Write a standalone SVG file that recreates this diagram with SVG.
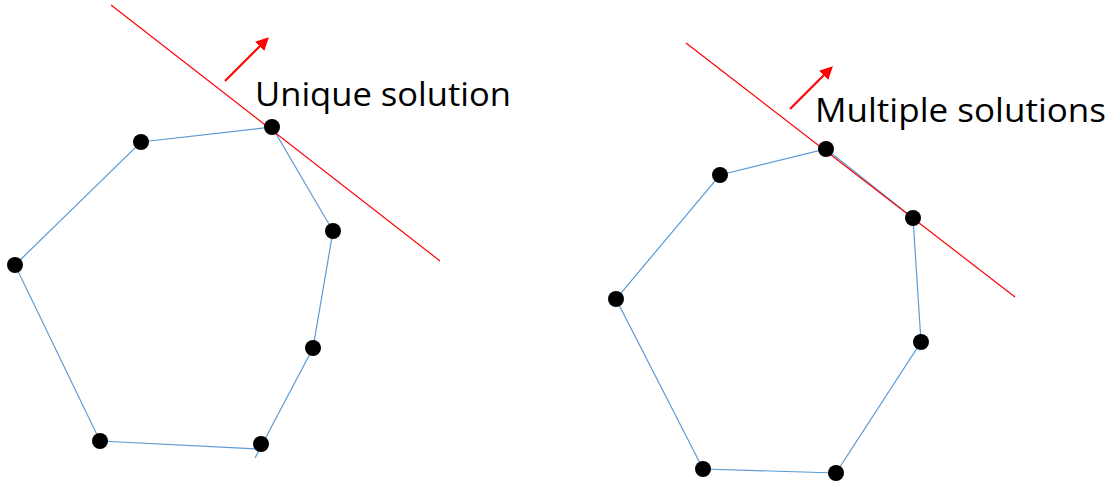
<svg xmlns="http://www.w3.org/2000/svg" width="1116" height="486" viewBox="0 0 1116 486">
<defs>
<style>
.edge{stroke:#5b9bd5;stroke-width:1.2;fill:none}
.red{stroke:#ff0000;stroke-width:1.2}
.arrow{stroke:#ff0000;stroke-width:2.2}
.dot{fill:#000}
.lbl{font-family:"Open Sans","Liberation Sans",sans-serif;font-size:32px;fill:#000}
</style>
<marker id="ah" viewBox="0 0 10 10" refX="8" refY="5" markerWidth="6" markerHeight="6" orient="auto" markerUnits="strokeWidth">
<path d="M0,0 L10,5 L0,10 z" fill="#ff0000"/>
</marker>
</defs>
<rect width="1116" height="486" fill="#fff"/>
<g id="connectors">
<polyline class="edge" points="258,449 100,441 15,265 141,142 272,127 333,231 313,348 255,458"/>
<polyline class="edge" points="836,473 703,469 616,299 720,175 826,149 913,218 921,342 836,473"/>
<line class="red" x1="111" y1="5" x2="440" y2="261"/>
<line class="red" x1="686" y1="43" x2="1015" y2="297"/>
<line class="arrow" x1="225" y1="81" x2="267" y2="39" marker-end="url(#ah)"/>
<line class="arrow" x1="790" y1="109" x2="831" y2="68" marker-end="url(#ah)"/>
</g>
<g id="left-nodes">
<circle class="dot" cx="141" cy="142" r="8"/>
<circle class="dot" cx="272" cy="127" r="8"/>
<circle class="dot" cx="333" cy="231" r="8"/>
<circle class="dot" cx="313" cy="348" r="8"/>
<circle class="dot" cx="261" cy="444" r="8"/>
<circle class="dot" cx="100" cy="441" r="8"/>
<circle class="dot" cx="15" cy="265" r="8"/>
</g>
<g id="right-nodes">
<circle class="dot" cx="720" cy="175" r="8"/>
<circle class="dot" cx="826" cy="149" r="8"/>
<circle class="dot" cx="913" cy="218" r="8"/>
<circle class="dot" cx="921" cy="342" r="8"/>
<circle class="dot" cx="836" cy="473" r="8"/>
<circle class="dot" cx="703" cy="469" r="8"/>
<circle class="dot" cx="616" cy="299" r="8"/>
</g>
<g id="labels">
<text class="lbl" x="255" y="106" textLength="256" lengthAdjust="spacingAndGlyphs">Unique solution</text>
<text class="lbl" x="815" y="122" textLength="291" lengthAdjust="spacingAndGlyphs">Multiple solutions</text>
</g>
</svg>
